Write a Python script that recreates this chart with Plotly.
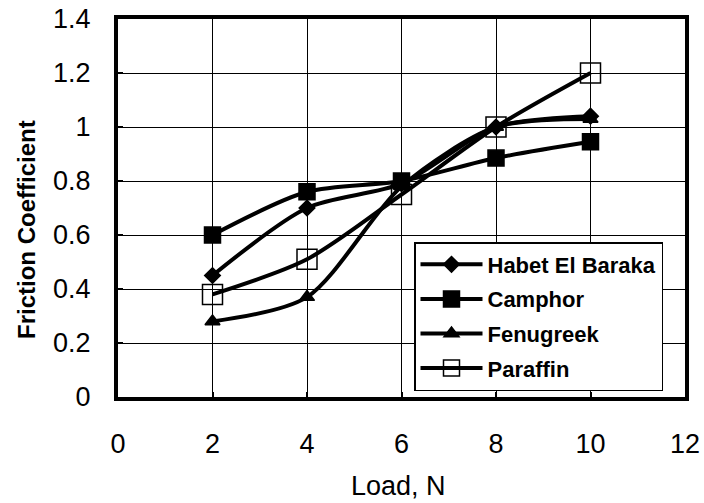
import plotly.graph_objects as go

load = [2, 4, 6, 8, 10]
habet = [0.45, 0.70, 0.79, 1.00, 1.04]
camphor = [0.60, 0.76, 0.80, 0.885, 0.945]
fenugreek = [0.28, 0.37, 0.78, 1.00, 1.03]
paraffin = [0.38, 0.51, 0.75, 1.00, 1.20]

names = ["Habet El Baraka", "Camphor", "Fenugreek", "Paraffin"]
series = [habet, camphor, fenugreek, paraffin]
symbols = ["diamond", "square", "triangle-up", "square-open"]
sizes = [12, 16, 13, 20]

fig = go.Figure()
for n, s, sym, sz in zip(names, series, symbols, sizes):
    fig.add_trace(go.Scatter(
        x=load, y=s, name=n, mode="lines+markers", legendgroup=n,
        line=dict(color="black", width=4, shape="spline", smoothing=0.8),
        marker=dict(symbol=sym, size=sz, color="black",
                    line=dict(color="black", width=1.5)),
    ))

font = "Liberation Sans, Arial, sans-serif"
fig.update_layout(
    width=704, height=503,
    margin=dict(l=118, r=19, t=19, b=106, autoexpand=False),
    paper_bgcolor="white", plot_bgcolor="white",
    font=dict(family=font, size=20, color="black"),
    showlegend=True,
    legend=dict(
        x=(414 - 118) / 567, y=(397 - 242) / 378, xanchor="left", yanchor="top",
        bgcolor="white", bordercolor="black", borderwidth=1.5,
        font=dict(family=font, size=22, color="black", weight="bold"),
        tracegroupgap=3, itemsizing="trace", itemwidth=62,
    ),
    xaxis=dict(
        range=[0, 12], tickvals=[0, 2, 4, 6, 8, 10, 12], automargin=False,
        showgrid=True, gridcolor="black", gridwidth=1,
        showline=True, linecolor="black", linewidth=4, mirror=True,
        ticks="inside", ticklen=5, tickwidth=2, tickcolor="black",
        zeroline=False, ticklabelstandoff=20,
        tickfont=dict(size=27),
    ),
    yaxis=dict(
        range=[0, 1.4], tickvals=[0, 0.2, 0.4, 0.6, 0.8, 1.0, 1.2, 1.4],
        ticktext=["0", "0.2", "0.4", "0.6", "0.8", "1", "1.2", "1.4"],
        automargin=False,
        showgrid=True, gridcolor="black", gridwidth=1,
        showline=True, linecolor="black", linewidth=4, mirror=True,
        ticks="inside", ticklen=5, tickwidth=2, tickcolor="black",
        zeroline=False, ticklabelstandoff=18,
        tickfont=dict(size=27),
    ),
    annotations=[
        dict(text="Load, N", xref="paper", yref="paper",
             x=(398 - 118) / 567, y=-(486 - 397) / 378,
             xanchor="center", yanchor="middle", showarrow=False,
             font=dict(size=27)),
        dict(text="Friction Coefficient", xref="paper", yref="paper",
             x=-(118 - 27) / 567, y=(397 - 230) / 378, textangle=-90,
             xanchor="center", yanchor="middle", showarrow=False,
             font=dict(size=24, weight="bold")),
    ],
)

fig.write_html("out.html")
